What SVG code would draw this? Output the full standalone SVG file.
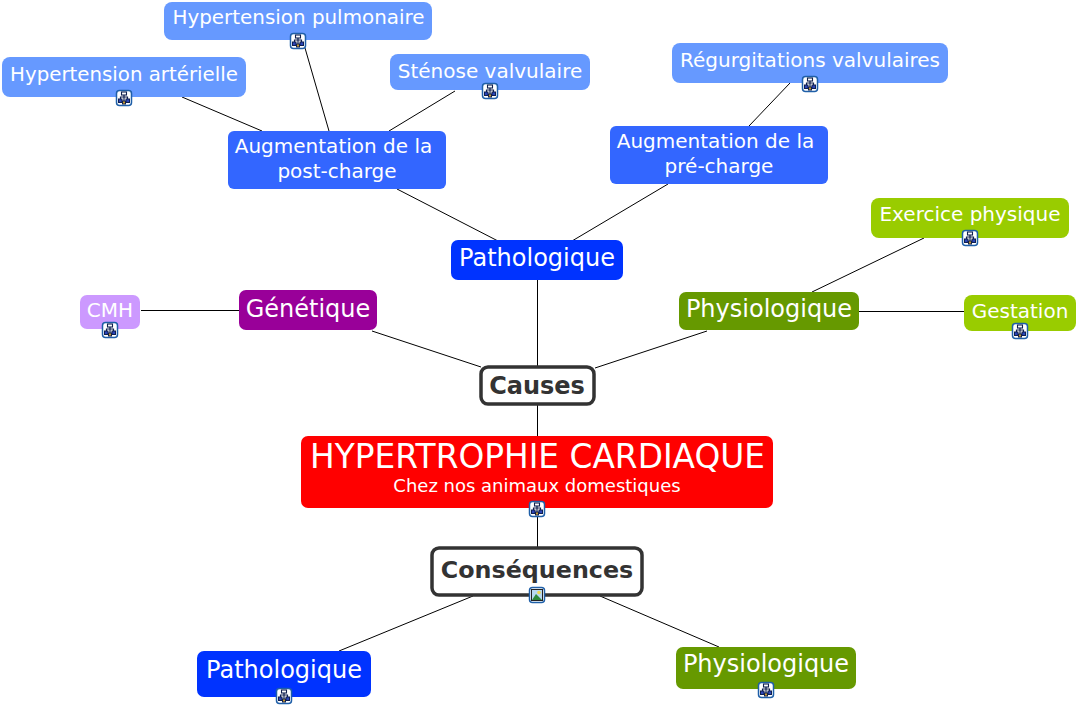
<svg xmlns="http://www.w3.org/2000/svg" width="1078" height="707" viewBox="0 0 1078 707">
<style>
text{font-family:"DejaVu Sans",sans-serif;fill:#fff;text-anchor:middle}
.c line{stroke:#000;stroke-width:1}
.bold{font-weight:bold;fill:#333}
.box{fill:#fff;stroke:#333;stroke-width:3.500}
.lb{fill:#6699ff}.mb{fill:#3366ff}.db{fill:#0033ff}.lg{fill:#99cc00}.dg{fill:#669900}
</style>
<defs>
<g id="tree">
<rect x="-7.500" y="-7.500" width="15" height="15" rx="3" fill="#fff" stroke="#1f5fa8" stroke-width="1.500"/>
<path d="M0-3V3M-3.500 1V-1H3.500V1" fill="none" stroke="#10204f" stroke-width="1.200"/>
<rect x="-2.500" y="-6" width="5" height="3" fill="#fff" stroke="#10204f" stroke-width="1.100"/>
<rect x="-5.500" y="1" width="3.500" height="3.500" fill="#2a44b8" stroke="#10204f" stroke-width="1"/>
<rect x="2" y="1" width="3.500" height="3.500" fill="#2a44b8" stroke="#10204f" stroke-width="1"/>
<rect x="-1.500" y="3" width="3" height="3" fill="#c89a30" stroke="#10204f" stroke-width="1"/>
</g>
<g id="pic">
<rect x="-7.500" y="-7.500" width="15" height="15" rx="3" fill="#fff" stroke="#1f5fa8" stroke-width="1.500"/>
<rect x="-5.500" y="-5.500" width="11" height="11" fill="#b8d8f0" stroke="#222" stroke-width="1"/>
<circle cx="2" cy="-2.500" r="1.800" fill="#f0d850"/>
<path d="M-5 5L-1-1L5 5Z" fill="#2f8a3a"/>
</g>
</defs>
<g class="c" id="connectors">
<line x1="537.500" y1="405" x2="537.500" y2="436"/>
<line x1="537.500" y1="515" x2="537.500" y2="548"/>
<line x1="537.500" y1="280" x2="537.500" y2="366"/>
<line x1="372" y1="331" x2="481" y2="367"/>
<line x1="707" y1="331" x2="595" y2="368"/>
<line x1="141" y1="310.500" x2="239" y2="310.500"/>
<line x1="859" y1="311.500" x2="964" y2="311.500"/>
<line x1="924" y1="238" x2="812" y2="292"/>
<line x1="397" y1="189" x2="498" y2="241"/>
<line x1="668" y1="184" x2="572" y2="241"/>
<line x1="182" y1="97" x2="262" y2="131"/>
<line x1="305" y1="48" x2="329" y2="131"/>
<line x1="455" y1="91" x2="389" y2="131"/>
<line x1="790" y1="83" x2="749" y2="126"/>
<line x1="473" y1="596" x2="339" y2="651"/>
<line x1="600" y1="596" x2="719" y2="647"/>
</g>
<g id="n-center"><rect x="301" y="436" width="472" height="72" rx="7" fill="#ff0000"/>
<text x="537.500" y="467.500" font-size="32.800">HYPERTROPHIE CARDIAQUE</text>
<text x="537" y="492" font-size="18">Chez nos animaux domestiques</text>
<use href="#tree" x="537" y="509"/></g>
<g id="n-causes"><rect class="box" x="481" y="367" width="113" height="37" rx="7"/>
<text class="bold" x="537" y="393.500" font-size="24">Causes</text></g>
<g id="n-consequences"><rect class="box" x="432" y="548" width="210" height="47" rx="7"/>
<text class="bold" x="537" y="578" font-size="23.800">Conséquences</text>
<use href="#pic" x="537" y="595"/></g>
<g id="n-patho1"><rect class="db" x="451" y="240" width="172" height="40" rx="7"/>
<text x="537" y="266" font-size="24">Pathologique</text></g>
<g id="n-gen"><rect x="239" y="290" width="138" height="40" rx="7" fill="#990099"/>
<text x="308" y="317" font-size="24">Génétique</text></g>
<g id="n-physio1"><rect class="dg" x="679" y="292" width="180" height="38" rx="7"/>
<text x="769" y="317" font-size="24">Physiologique</text></g>
<g id="n-cmh"><rect x="80" y="295" width="60" height="34" rx="7" fill="#cc99ff"/>
<text x="110" y="317" font-size="20">CMH</text>
<use href="#tree" x="110" y="330"/></g>
<g id="n-postcharge"><rect class="mb" x="228" y="131" width="218" height="58" rx="6"/>
<text x="333.500" y="153" font-size="20">Augmentation de la</text>
<text x="337" y="178" font-size="20">post-charge</text></g>
<g id="n-precharge"><rect class="mb" x="610" y="126" width="218" height="58" rx="6"/>
<text x="715.500" y="148" font-size="20">Augmentation de la</text>
<text x="719" y="173" font-size="20">pré-charge</text></g>
<g id="n-htp"><rect class="lb" x="164" y="2" width="268" height="38" rx="8"/>
<text x="298.500" y="24" font-size="19.900">Hypertension pulmonaire</text>
<use href="#tree" x="298" y="41"/></g>
<g id="n-hta"><rect class="lb" x="2" y="57" width="244" height="40" rx="8"/>
<text x="124" y="81" font-size="19.800">Hypertension artérielle</text>
<use href="#tree" x="124" y="98"/></g>
<g id="n-sten"><rect class="lb" x="390" y="54" width="200" height="36" rx="8"/>
<text x="490" y="78" font-size="20">Sténose valvulaire</text>
<use href="#tree" x="490" y="91"/></g>
<g id="n-regurg"><rect class="lb" x="672" y="43" width="276" height="40" rx="8"/>
<text x="810" y="67" font-size="20">Régurgitations valvulaires</text>
<use href="#tree" x="810" y="84"/></g>
<g id="n-exercice"><rect class="lg" x="871" y="198" width="198" height="40" rx="8"/>
<text x="970" y="221" font-size="20">Exercice physique</text>
<use href="#tree" x="970" y="238"/></g>
<g id="n-gestation"><rect class="lg" x="964" y="295" width="112" height="36" rx="8"/>
<text x="1020" y="318" font-size="20">Gestation</text>
<use href="#tree" x="1020" y="331"/></g>
<g id="n-patho2"><rect class="db" x="197" y="651" width="174" height="46" rx="7"/>
<text x="284" y="678" font-size="24">Pathologique</text>
<use href="#tree" x="284" y="696"/></g>
<g id="n-physio2"><rect class="dg" x="676" y="647" width="180" height="42" rx="7"/>
<text x="766" y="672" font-size="24">Physiologique</text>
<use href="#tree" x="766" y="690"/></g>
</svg>
